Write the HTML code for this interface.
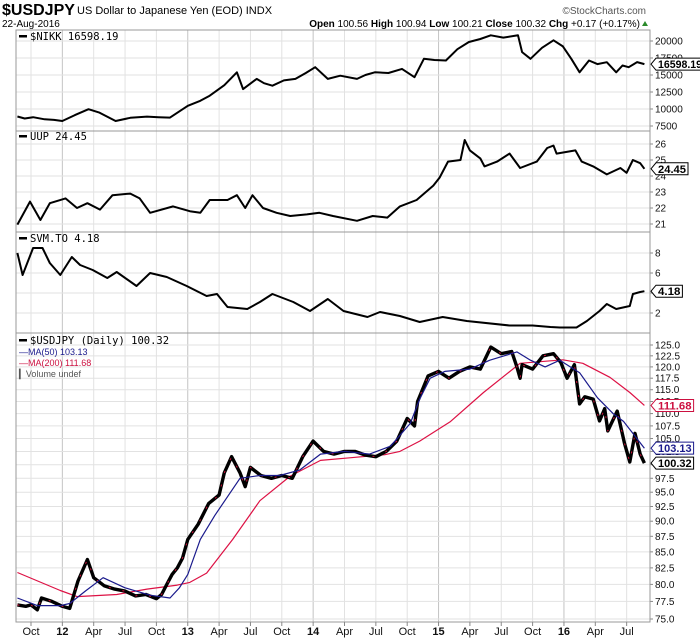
<!DOCTYPE html>
<html><head><meta charset="utf-8">
<style>
html,body{margin:0;padding:0;background:#fff;}
svg{display:block;font-family:"Liberation Sans",sans-serif;}
</style></head>
<body>
<svg id="chart" width="700" height="639" viewBox="0 0 700 639">
  <defs>
    <clipPath id="c1"><rect x="16" y="30" width="634" height="101"/></clipPath>
    <clipPath id="c2"><rect x="16" y="131" width="634" height="101"/></clipPath>
    <clipPath id="c3"><rect x="16" y="232" width="634" height="101"/></clipPath>
    <clipPath id="c4"><rect x="16" y="333" width="634" height="289"/></clipPath>
  </defs>
  <g>
    <text x="2" y="15" font-size="16" font-weight="bold">$USDJPY</text>
    <text x="77" y="14" font-size="11">US Dollar to Japanese Yen (EOD)  INDX</text>
    <text x="2" y="27" font-size="10">22-Aug-2016</text>
    <text x="646" y="14" font-size="10" fill="#555" text-anchor="end">©StockCharts.com</text>
    <text x="640" y="27" font-size="10" text-anchor="end"><tspan font-weight="bold">Open</tspan> 100.56 <tspan font-weight="bold">High</tspan> 100.94 <tspan font-weight="bold">Low</tspan> 100.21 <tspan font-weight="bold">Close</tspan> 100.32 <tspan font-weight="bold">Chg</tspan> +0.17 (+0.17%)</text>
    <polygon points="642,26 648,26 645,21" fill="#2a8a2a"/>
  </g>
  <g id="grid"></g>
  <g id="series"></g>
  <g id="frames"></g>
  <g id="labels"></g>
</svg>
<script>
// ---- time axis (months since 1-Oct-2011) ----
const xTickMonths = [0,3,6,9,12,15,18,21,24,27,30,33,36,39,42,45,48,51,54,57];
const xTickLabels = ["Oct","12","Apr","Jul","Oct","13","Apr","Jul","Oct","14","Apr","Jul","Oct","15","Apr","Jul","Oct","16","Apr","Jul"];

// ---- $NIKK ----
const nikkT = [-1.3,-0.6,0.2,1.3,2.2,3.0,4.2,5.5,6.5,8.1,9.5,11.1,12.2,13.3,15.0,16.2,17.1,18.5,19.7,20.3,21.6,22.3,23.1,24.2,25.3,26.3,27.2,28.4,29.6,31.2,32.0,32.9,34.2,35.5,36.7,37.6,38.6,39.7,40.8,41.9,43.0,44.0,45.2,46.6,47.0,47.8,48.9,50.0,50.9,51.7,52.5,53.4,54.2,55.1,56.0,56.6,57.2,58.0,58.7];
const nikkV = [8900,8600,8800,8490,8400,8240,9100,9970,9500,8240,8700,8880,8800,8740,10470,11200,11950,13500,15400,12930,14420,13800,13430,14200,14420,15300,16150,14420,14900,14420,15000,15400,15300,15900,14670,17380,17200,17130,18800,19850,20300,20840,20500,20840,18370,17380,19000,20100,19200,17380,15400,17130,16600,16880,15400,16400,16150,16900,16598];
const nikkTicks = [20000,17500,15000,12500,10000,7500];

// ---- UUP ----
const uupT = [-1.3,-0.1,0.9,1.8,3.3,4.4,5.4,6.6,7.8,9.5,10.4,11.4,13.6,15.2,16.2,17.1,18.8,19.7,20.5,21.2,22.2,23.5,24.8,26.4,27.6,28.9,31.2,32.7,34.1,35.3,36.9,38.5,39.1,39.9,41.1,41.5,42.0,43.0,43.4,44.6,45.8,46.8,48.4,49.4,50.0,50.3,52.1,52.7,53.8,55.1,56.4,57.0,57.6,58.3,58.7];
const uupV = [20.96,22.4,21.25,22.3,22.6,22.0,22.3,21.9,22.8,22.9,22.6,21.7,22.1,21.8,21.7,22.5,22.5,22.8,22.0,22.8,22.0,21.7,21.5,21.6,21.7,21.5,21.2,21.5,21.4,22.1,22.5,23.4,23.9,24.9,25.0,26.25,25.6,25.1,24.6,24.9,25.4,24.5,24.9,25.75,25.9,25.4,25.6,24.9,24.6,24.1,24.5,24.2,25.0,24.8,24.45];
const uupTicks = [26,25,24,23,22,21];

// ---- SVM.TO ----
const svmT = [-1.3,-0.8,0.2,1.1,1.8,2.8,3.9,4.7,5.9,7.3,8.2,10.1,11.4,13.0,14.9,16.8,17.8,18.8,20.7,21.9,23.1,25.1,26.7,28.4,29.9,32.2,33.4,35.3,37.2,39.4,41.7,45.8,48.0,49.7,50.6,52.2,53.2,54.4,55.1,56.0,57.3,57.6,58.3,58.7];
const svmV = [8.0,5.8,8.5,8.5,7.0,5.8,7.6,6.8,6.3,5.5,6.1,4.7,6.0,5.6,4.7,3.7,3.9,2.6,2.4,3.1,3.9,3.1,2.2,3.4,2.2,1.6,2.1,1.7,1.1,1.6,1.2,0.75,0.75,0.6,0.55,0.55,1.2,2.2,2.9,2.4,2.7,3.9,4.1,4.18];
const svmTicks = [8,6,4,2];

// ---- $USDJPY ----
const fxT = [-1.3,-0.5,0,0.6,1,2,3,3.7,4.5,5.4,6,7,8,9,10,11,12,12.5,13,13.5,14,14.5,15,16,17,18,18.5,19.2,20,20.5,21,22,23,24,25,26,27,28,29,30,31,32,33,34,35,36,36.7,37,38,39,40,41,42,43,44,45,46,46.5,46.8,47,48,49,50,50.7,51.3,52,52.5,53,53.8,54.4,54.9,55.2,56.1,56.8,57.3,57.8,58.3,58.7];
const fxClose = [77.0,76.8,77.0,76.3,78.0,77.5,76.8,76.5,80.5,83.8,81.0,79.8,79.3,79.0,78.3,78.5,77.9,78.5,80.0,81.5,82.5,84.0,87.0,89.5,93.0,94.5,98.5,101.5,98.5,96.0,99.5,98.0,97.5,98.0,97.5,101.5,104.5,102.5,102.0,102.5,102.5,101.8,101.5,102.5,104.5,109.0,107.5,112.5,118.0,119.0,117.5,119.0,120.0,119.5,124.5,123.0,123.5,120.0,117.5,120.5,119.5,122.5,123.0,121.0,117.5,120.5,112.0,113.5,113.0,108.5,111.0,106.5,110.5,104.0,100.5,106.0,102.0,100.3];
const ma50T = [-1.3,0.6,2.8,3.7,5.2,6.9,9.0,11.4,13.3,14.2,15.0,16.2,17.6,20.0,21.9,23.8,25.7,27.7,30.0,32.4,34.4,36.3,37.2,38.2,39.6,42.0,43.9,46.5,47.8,49.2,50.6,52.5,54.2,55.7,56.7,57.6,58.7];
const ma50V = [78.0,76.9,76.9,77.2,79.0,81.0,79.5,78.4,78.0,79.5,81.5,87.0,91.0,97.5,98.0,98.0,99.0,102.0,102.5,102.0,103.5,108.0,113.0,117.5,119.0,119.5,121.5,123.4,121.5,120.0,121.5,118.7,113.3,110.0,108.4,106.0,103.13];
const ma200T = [-1.3,2.8,4.4,8.2,11.1,14.0,15.2,16.8,19.3,21.9,24.8,27.7,30.5,33.9,35.3,37.2,40.1,43.3,46.8,50.9,52.8,55.4,57.3,58.7];
const ma200V = [81.8,79.1,78.2,78.5,79.3,79.9,80.3,81.7,87.0,93.5,97.9,100.8,101.3,101.9,102.5,104.5,108.3,114.4,120.8,121.6,120.8,117.7,114.4,111.68];
const fxTicks = [125,122.5,120,117.5,115,112.5,110,107.5,105,102.5,100,97.5,95,92.5,90,87.5,85,82.5,80,77.5,75];

const NS = "http://www.w3.org/2000/svg";
const L = 16, R = 650;
function X(t){ return 31 + 10.45*t; }
function y1(v){ return 41 + (20000 - v)*17/2500; }
function y2(v){ return 144 + (26 - v)*16; }
function y3(v){ return 253 + (8 - v)*10; }
function y4(v){ return 345 + 536.4*Math.log(125/v); }
function mk(tag, attrs, parent){
  const e = document.createElementNS(NS, tag);
  for (const k in attrs) e.setAttribute(k, attrs[k]);
  parent.appendChild(e); return e;
}
const grid = document.getElementById('grid');
const series = document.getElementById('series');
const frames = document.getElementById('frames');
const labels = document.getElementById('labels');

const panels = [[30,131],[131,232],[232,333],[333,622]];
panels.forEach(function(p){
  for (let m = 0; m <= 57; m += 3) {
    const isYear = (m % 12) === 3;
    const ln = mk('line', {x1:X(m), x2:X(m), y1:p[0], y2:p[1], stroke: isYear ? '#c4c4c4' : '#e2e2e2', 'stroke-width':1}, grid);
    
    
  }
});
function hGrid(ticks, yf, fmt, name){
  ticks.forEach(function(v){
    const yy = yf(v);
    const ln = mk('line', {x1:L, x2:R, y1:yy, y2:yy, stroke:'#e2e2e2', 'stroke-width':1}, grid);
    
    
    const tk = mk('line', {x1:R, x2:R+3, y1:yy, y2:yy, stroke:'#888'}, frames);
    
    
    const tx = mk('text', {x:R+5, y:yy+3.5, 'font-size':10, fill:'#111'}, labels);
    tx.textContent = fmt(v);
    
    
  });
}
hGrid(nikkTicks, y1, function(v){return String(v);}, 'nikk-y');
hGrid(uupTicks, y2, function(v){return String(v);}, 'uup-y');
hGrid(svmTicks, y3, function(v){return String(v);}, 'svm-y');
hGrid(fxTicks, y4, function(v){return v.toFixed(1);}, 'usdjpy-y');

function line(ts, vs, yf, clip, color, w, name){
  let d = '';
  for (let i = 0; i < ts.length; i++) d += (i ? 'L' : 'M') + X(ts[i]).toFixed(1) + ',' + yf(vs[i]).toFixed(1);
  const p = mk('path', {d:d, fill:'none', stroke:color, 'stroke-width':w, 'stroke-linejoin':'round', 'clip-path':'url(#' + clip + ')'}, series);
  
  
  return p;
}
line(nikkT, nikkV, y1, 'c1', '#000', 2, 'nikk-line');
line(uupT, uupV, y2, 'c2', '#000', 2, 'uup-line');
line(svmT, svmV, y3, 'c3', '#000', 2, 'svm-line');
line(ma200T, ma200V, y4, 'c4', '#dd1144', 1.2, 'ma200-line');
line(fxT, fxClose, y4, 'c4', '#000', 3.4, 'usdjpy-price-bars');
const redBits = line(fxT, fxClose, y4, 'c4', '#d0103a', 1, 'usdjpy-down-bars');
redBits.setAttribute('stroke-dasharray', '2,12');
line(ma50T, ma50V, y4, 'c4', '#1a1a8c', 1.2, 'ma50-line');

panels.forEach(function(p, i){
  const r = mk('rect', {x:L, y:p[0], width:R-L, height:p[1]-p[0], fill:'none', stroke:'#999', 'stroke-width':1}, frames);
  
  
});
xTickMonths.forEach(function(m, i){
  const isYear = (m % 12) === 3;
  const t = mk('text', {x:X(m), y:635, 'font-size':11, 'text-anchor':'middle', 'font-weight': isYear ? 'bold' : 'normal', fill:'#111'}, labels);
  t.textContent = xTickLabels[i];
  
  
  const tk = mk('line', {x1:X(m), x2:X(m), y1:622, y2:626, stroke:'#888'}, frames);
  
  
});

function title(y, txt, color, name){
  mk('rect', {x:19, y:y-5, width:8, height:2.5, fill:color}, labels);
  const t = mk('text', {x:30, y:y, 'font-size':10.5, fill:color, 'font-family':'"DejaVu Sans Mono","Liberation Mono",monospace'}, labels);
  t.textContent = txt;
  
  
}
title(40, '$NIKK 16598.19', '#000', 'nikk-legend');
title(140, 'UUP 24.45', '#000', 'uup-legend');
title(242, 'SVM.TO 4.18', '#000', 'svm-legend');
title(344, '$USDJPY (Daily) 100.32', '#000', 'usdjpy-legend');
function leg(y, txt, color, name){
  const t = mk('text', {x:19, y:y, 'font-size':9, fill:color}, labels);
  t.textContent = txt;
  
  
}
leg(355, '\u2014MA(50) 103.13', '#1a1a8c', 'ma50-legend');
leg(366, '\u2014MA(200) 111.68', '#cc1040', 'ma200-legend');
leg(377, '\u258eVolume undef', '#555', 'volume-legend');

function tag(y, txt, color, name){
  const w = Math.min(txt.length*5.6 + 4, 48);
  const pts = (R+1)+','+y+' '+(R+6)+','+(y-6)+' '+(R+6+w)+','+(y-6)+' '+(R+6+w)+','+(y+6)+' '+(R+6)+','+(y+6);
  const poly = mk('polygon', {points:pts, fill:'#fff', stroke:color, 'stroke-width':1}, labels);
  
  
  const t = mk('text', {x:R+8, y:y+4, 'font-size':11, 'font-weight':'bold', fill:color, textLength:(w-4), lengthAdjust:'spacingAndGlyphs'}, labels);
  t.textContent = txt;
  
  
}
tag(y1(nikkV[nikkV.length-1]), '16598.19', '#000', 'nikk-last-value');
tag(y2(uupV[uupV.length-1]), '24.45', '#000', 'uup-last-value');
tag(y3(svmV[svmV.length-1]), '4.18', '#000', 'svm-last-value');
tag(y4(ma200V[ma200V.length-1]), '111.68', '#cc1040', 'ma200-last-value');
tag(y4(ma50V[ma50V.length-1]), '103.13', '#1a1a8c', 'ma50-last-value');
tag(y4(fxClose[fxClose.length-1]), '100.32', '#000', 'usdjpy-last-value');
</script>
</body></html>
